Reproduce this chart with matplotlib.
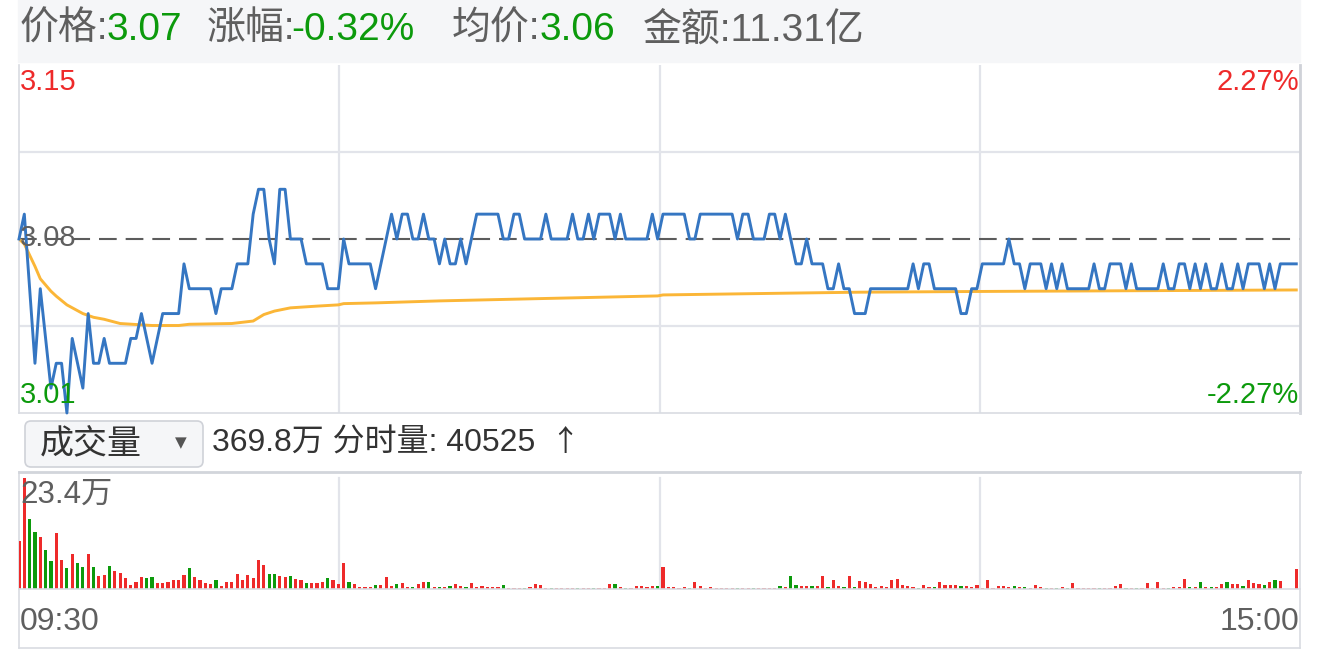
import matplotlib
matplotlib.use('Agg')
import matplotlib.pyplot as plt
from matplotlib.patches import Rectangle, FancyBboxPatch
from matplotlib.transforms import Affine2D

# Helvetica-like digits, CJK glyphs fall back to Noto
plt.rcParams['font.family'] = ['Liberation Sans', 'Noto Sans CJK SC', 'DejaVu Sans']

# header figures
last_price = 3.07
change_pct = -0.32
avg_now = 3.06
turnover = '11.31亿'
prev_close = 3.08
price_top, price_bottom = 3.15, 3.01
vol_total = '369.8万'
vol_minute = 40525
vol_max_label = '23.4万'
time_labels = ['09:30', '15:00']

# one close per minute, 09:30 .. 11:30, 13:01 .. 15:00
price = [
    3.08, 3.09, 3.06, 3.03, 3.06, 3.04, 3.02, 3.03, 3.03, 3.01, 3.04, 3.03, 3.02, 3.05, 3.03, 3.03, 3.04, 3.03, 3.03, 3.03,
    3.03, 3.04, 3.04, 3.05, 3.04, 3.03, 3.04, 3.05, 3.05, 3.05, 3.05, 3.07, 3.06, 3.06, 3.06, 3.06, 3.06, 3.05, 3.06, 3.06,
    3.06, 3.07, 3.07, 3.07, 3.09, 3.10, 3.10, 3.08, 3.07, 3.10, 3.10, 3.08, 3.08, 3.08, 3.07, 3.07, 3.07, 3.07, 3.06, 3.06,
    3.06, 3.08, 3.07, 3.07, 3.07, 3.07, 3.07, 3.06, 3.07, 3.08, 3.09, 3.08, 3.09, 3.09, 3.08, 3.08, 3.09, 3.08, 3.08, 3.07,
    3.08, 3.07, 3.07, 3.08, 3.07, 3.08, 3.09, 3.09, 3.09, 3.09, 3.09, 3.08, 3.08, 3.09, 3.09, 3.08, 3.08, 3.08, 3.08, 3.09,
    3.08, 3.08, 3.08, 3.08, 3.09, 3.08, 3.08, 3.09, 3.08, 3.09, 3.09, 3.09, 3.08, 3.09, 3.08, 3.08, 3.08, 3.08, 3.08, 3.09,
    3.08, 3.09, 3.09, 3.09, 3.09, 3.09, 3.08, 3.08, 3.09, 3.09, 3.09, 3.09, 3.09, 3.09, 3.09, 3.08, 3.09, 3.09, 3.08, 3.08,
    3.08, 3.09, 3.09, 3.08, 3.09, 3.08, 3.07, 3.07, 3.08, 3.07, 3.07, 3.07, 3.06, 3.06, 3.07, 3.06, 3.06, 3.05, 3.05, 3.05,
    3.06, 3.06, 3.06, 3.06, 3.06, 3.06, 3.06, 3.06, 3.07, 3.06, 3.07, 3.07, 3.06, 3.06, 3.06, 3.06, 3.06, 3.05, 3.05, 3.06,
    3.06, 3.07, 3.07, 3.07, 3.07, 3.07, 3.08, 3.07, 3.07, 3.06, 3.07, 3.07, 3.07, 3.06, 3.07, 3.06, 3.07, 3.06, 3.06, 3.06,
    3.06, 3.06, 3.07, 3.06, 3.06, 3.07, 3.07, 3.07, 3.06, 3.07, 3.06, 3.06, 3.06, 3.06, 3.06, 3.07, 3.06, 3.06, 3.07, 3.07,
    3.06, 3.07, 3.06, 3.07, 3.06, 3.06, 3.07, 3.06, 3.06, 3.07, 3.06, 3.07, 3.07, 3.07, 3.06, 3.07, 3.06, 3.07, 3.07, 3.07,
    3.07,
]

# average price line, read at these minutes
avg_minute = [0, 1, 3, 4, 6, 7, 9, 12, 14, 16, 19, 22, 25, 30, 32, 40, 44, 46, 48, 51,
              56, 60, 61, 67, 79, 120, 121, 144, 158, 181, 240]
avg_price = [3.080, 3.078, 3.069, 3.064, 3.059, 3.057, 3.0535, 3.050, 3.0485, 3.0477, 3.046, 3.0456,
             3.0452, 3.0452, 3.0457, 3.046, 3.047, 3.0496, 3.051, 3.0523, 3.053, 3.0535, 3.054,
             3.0543, 3.0551, 3.0571, 3.0575, 3.0582, 3.0586, 3.0589, 3.0595]

# volume per minute, in 万 shares
volume = [
    10.1, 23.4, 14.7, 11.9, 11.0, 8.2, 5.9, 11.7, 6.1, 4.4, 7.3, 5.4, 4.7, 7.3, 4.7, 2.8, 3.0, 4.9, 3.7, 3.3,
    2.3, 0.9, 1.4, 2.5, 2.3, 2.5, 1.2, 1.3, 1.5, 1.8, 1.9, 2.9, 4.4, 2.6, 1.8, 1.3, 1.1, 1.9, 0.6, 1.5,
    1.5, 3.2, 1.9, 3.0, 2.3, 6.1, 5.1, 3.2, 3.2, 2.8, 2.5, 2.7, 2.2, 1.8, 1.2, 1.2, 1.2, 1.4, 2.3, 1.9,
    1.1, 5.4, 1.4, 1.1, 0.5, 0.5, 0.5, 0.8, 0.8, 2.5, 0.7, 1.1, 1.2, 0.5, 0.5, 1.1, 1.4, 1.4, 0.5, 0.35,
    0.35, 0.7, 1.1, 0.7, 0.35, 1.2, 0.5, 0.7, 0.5, 0.5, 0.5, 0.8, 0.3, 0.3, 0.3, 0.3, 0.5, 1.1, 0.8, 0.3,
    0.3, 0.3, 0.3, 0.3, 0.3, 0.3, 0.3, 0.3, 0.3, 0.3, 0.3, 1.1, 1.1, 0.5, 0.3, 0.3, 0.7, 0.7, 0.5, 0.6,
    0.6, 4.6, 0.5, 0.35, 0.3, 0.5, 0.3, 1.5, 0.6, 0.3, 0.35, 0.25, 0.25, 0.25, 0.25, 0.25, 0.25, 0.25, 0.25, 0.25,
    0.25, 0.25, 0.25, 0.6, 0.35, 2.7, 0.8, 0.6, 0.6, 0.6, 0.6, 2.7, 0.5, 1.9, 0.6, 0.5, 2.7, 0.5, 1.7, 1.5,
    1.1, 0.5, 0.6, 0.5, 1.8, 2.1, 0.8, 0.6, 0.5, 0.15, 0.8, 0.5, 0.5, 1.4, 0.8, 0.8, 0.8, 0.6, 0.6, 0.5,
    0.8, 0.3, 1.9, 0.3, 0.7, 0.7, 0.5, 0.6, 0.5, 0.5, 0.3, 0.8, 0.35, 0.3, 0.15, 0.3, 0.35, 0.3, 1.2, 0.3,
    0.3, 0.3, 0.3, 0.3, 0.3, 0.3, 0.7, 1.1, 0.3, 0.3, 0.3, 0.3, 1.2, 0.3, 1.4, 0.15, 0.15, 0.35, 0.5, 2.2,
    0.5, 0.5, 1.5, 0.5, 0.5, 0.5, 1.1, 1.4, 1.1, 1.1, 0.7, 1.9, 1.2, 1.1, 0.8, 1.5, 1.9, 1.7, 0.0, 0.0,
    4.2,
]

RED = '#ee2a2a'
GREEN = '#0c9a0c'
GRAY = '#5f5f5f'
GRID = '#e2e4ea'
BORDER = '#d9dce2'

W, H = 1320, 650
fig = plt.figure(figsize=(W / 100, H / 100), dpi=100)
# pixel coords measured from the top-left corner
px = Affine2D().scale(1 / W, -1 / H).translate(0, 1) + fig.transFigure


def box(x0, y0, x1, y1):
    return [x0 / W, 1 - y1 / H, (x1 - x0) / W, (y1 - y0) / H]


minutes = list(range(len(price)))
xlim = (0, 240.7)

# header bar
fig.add_artist(Rectangle((18, 0), 1282, 62, transform=px, color='#f5f6f8', zorder=0))
head = [('价格:', 20, GRAY), (f'{last_price:.2f}', 107, GREEN),
        ('涨幅:', 207, GRAY), (f'{change_pct:.2f}%', 291, GREEN),
        ('均价:', 452, GRAY), (f'{avg_now:.2f}', 540, GREEN),
        ('金额:' + turnover, 643, GRAY)]
for s, x, c in head:
    fig.text(x / W, 1 - 30 / H, s, color=c, fontsize=28, va='center', ha='left')

# price panel
ax = fig.add_axes(box(19, 65, 1300, 413))
ax.set_xlim(*xlim)
ax.set_ylim(price_bottom, price_top)
for q in (0.25, 0.75):
    ax.axhline(price_bottom + q * (price_top - price_bottom), color=GRID, lw=1.6, zorder=1)
for f in (0.25, 0.5, 0.75):
    ax.axvline(xlim[0] + f * (xlim[1] - xlim[0]), color=GRID, lw=1.6, zorder=1)
ax.axhline(prev_close, color='#5c5c5c', lw=1.5, linestyle=(0, (8.5, 4.3)), zorder=2)
ax.plot(avg_minute, avg_price, color='#fbb637', lw=2.1, zorder=3)
ax.plot(minutes, price, color='#3576c2', lw=2.1, zorder=4, clip_on=False)
ax.set_xticks([])
ax.set_yticks([])
ax.spines['top'].set_visible(False)
for side in ('left', 'bottom'):
    ax.spines[side].set_color(BORDER)
    ax.spines[side].set_linewidth(1.2)
ax.spines['right'].set_color('#cfd2d8')
ax.spines['right'].set_linewidth(2)

pct = (price_top - prev_close) / prev_close * 100
fig.text(20 / W, 1 - 82 / H, f'{price_top:.2f}', color=RED, fontsize=21, va='center')
fig.text(1299 / W, 1 - 82 / H, f'{pct:.2f}%', color=RED, fontsize=21, va='center', ha='right')
fig.text(20 / W, 1 - 238 / H, f'{prev_close:.2f}', color=GRAY, fontsize=21, va='center', zorder=10)
fig.text(20 / W, 1 - 395 / H, f'{price_bottom:.2f}', color=GREEN, fontsize=21, va='center')
fig.text(1299 / W, 1 - 395 / H, f'-{pct:.2f}%', color=GREEN, fontsize=21, va='center', ha='right')

# volume selector row
fig.add_artist(FancyBboxPatch((25, 421), 178, 46, boxstyle='round,pad=0,rounding_size=6',
                              transform=px, facecolor='#f5f6f8', edgecolor='#cfd2d8', lw=1.2))
fig.text(40 / W, 1 - 444 / H, '成交量', color='#333333', fontsize=24.5, va='center')
fig.text(181 / W, 1 - 443 / H, '▼', color='#555555', fontsize=11, va='center', ha='center',
         family=['DejaVu Sans'])
fig.text(212 / W, 1 - 444 / H, f'{vol_total} 分时量: {vol_minute}', color='#333333',
         fontsize=23, va='center')
fig.text(550 / W, 1 - 443 / H, '↑', color='#333333', fontsize=21, va='center',
         family=['Noto Sans CJK SC'])

# volume panel
ax2 = fig.add_axes(box(19, 472, 1300, 589))
colors = [RED] + [RED if price[i] >= price[i - 1] else GREEN for i in range(1, len(price))]
ax2.bar(minutes, volume, width=0.6, color=colors, zorder=3)
ax2.set_xlim(*xlim)
ax2.set_ylim(0, 24.6)
for f in (0.25, 0.5, 0.75):
    ax2.axvline(xlim[0] + f * (xlim[1] - xlim[0]), ymax=0.95, color=GRID, lw=1.6, zorder=1)
ax2.set_xticks([])
ax2.set_yticks([])
ax2.spines['bottom'].set_visible(False)
ax2.spines['top'].set_color('#d2d5db')
ax2.spines['top'].set_linewidth(2)
for side in ('left', 'right'):
    ax2.spines[side].set_color(BORDER)
    ax2.spines[side].set_linewidth(1.2)
fig.text(20 / W, 1 - 495 / H, vol_max_label, color=GRAY, fontsize=22.5, va='center', zorder=10)

# time axis strip
ax3 = fig.add_axes(box(19, 589, 1300, 648))
ax3.set_xticks([])
ax3.set_yticks([])
for side in ax3.spines:
    ax3.spines[side].set_color(BORDER)
    ax3.spines[side].set_linewidth(1.2)
fig.text(20 / W, 1 - 622 / H, time_labels[0], color=GRAY, fontsize=23, va='center')
fig.text(1299 / W, 1 - 622 / H, time_labels[1], color=GRAY, fontsize=23, va='center', ha='right')

fig.savefig('out.png', dpi=100)
